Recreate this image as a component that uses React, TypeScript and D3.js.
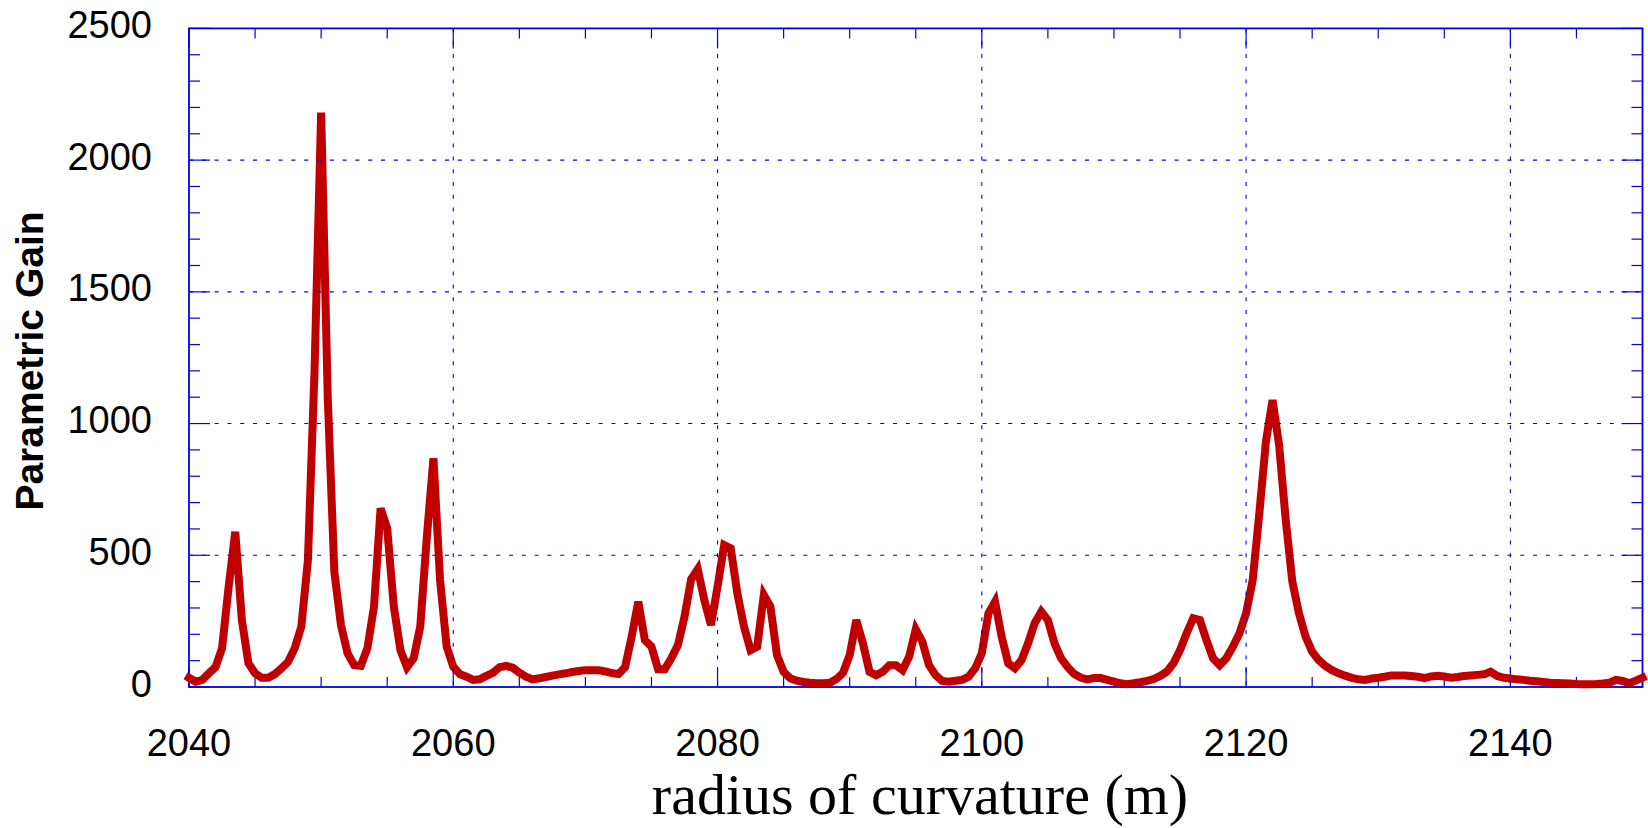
import React from "react";
import * as d3 from "d3";

// ---- data ----
const radiusStart = 2040;
const radiusStep = 0.5;
const gain: number[] = [
  35, 20, 27, 52, 75, 147, 380, 589, 254, 90,
  52, 35, 35, 49, 71, 96, 147, 229, 482, 1200,
  2180, 1100, 437, 235, 128, 83, 80, 147, 305, 678,
  602, 305, 140, 75, 109, 229, 570, 868, 406, 153,
  77, 49, 39, 27, 29, 42, 54, 75, 80, 73,
  54, 39, 29, 33, 38, 43, 48, 52, 57, 61,
  64, 64, 64, 59, 53, 49, 75, 191, 324, 178,
  153, 67, 67, 109, 159, 267, 409, 447, 330, 235,
  381, 539, 526, 355, 229, 140, 153, 349, 305, 121,
  58, 33, 24, 19, 16, 14, 14, 16, 30, 54,
  121, 254, 166, 58, 45, 58, 83, 83, 64, 115,
  219, 172, 83, 45, 23, 20, 24, 27, 39, 71,
  128, 280, 324, 191, 90, 71, 102, 166, 242, 286,
  254, 166, 109, 75, 49, 35, 29, 34, 34, 27,
  20, 14, 11, 14, 18, 23, 30, 42, 58, 90,
  140, 204, 261, 254, 178, 109, 83, 109, 153, 204,
  280, 406, 659, 931, 1089, 918, 634, 400, 280, 191,
  134, 102, 80, 64, 52, 43, 35, 29, 27, 32,
  35, 39, 44, 44, 44, 42, 39, 34, 40, 43,
  40, 35, 38, 42, 44, 46, 48, 58, 42, 35,
  32, 29, 27, 24, 22, 19, 16, 15, 14, 13,
  11, 10, 10, 11, 13, 16, 27, 23, 14, 24,
  35,
];
const xMajorTicks = [2040, 2060, 2080, 2100, 2120, 2140];
const yMajorTicks = [0, 500, 1000, 1500, 2000, 2500];
const xTitle = "radius of curvature (m)";
const yTitle = "Parametric Gain";

const W = 1648;
const H = 828;
const left = 189;
const right = 1642.5;
const top = 28.4;
const bottom = 687;

const BLUE = "#0000e6";
const RED = "#c00000";

export default function App() {
  const x = d3.scaleLinear().domain([2040, 2150]).range([left, right]);
  const y = d3.scaleLinear().domain([0, 2500]).range([bottom, top]);

  const pts: [number, number][] = gain.map((g, i) => [radiusStart + i * radiusStep, g]);
  const line = d3
    .line<[number, number]>()
    .x((d) => x(d[0]))
    .y((d) => y(d[1]));

  const xMinor = d3.range(2040, 2150.001, 5);
  const yMinor = d3.range(0, 2500.001, 100);
  const isXMajor = (v: number) => Math.abs(v % 20) < 1e-6;
  const isYMajor = (v: number) => Math.abs(v % 500) < 1e-6;

  return (
    <div style={{ position: "absolute", left: 0, top: 0 }}>
      <svg width={W} height={H} style={{ display: "block", background: "#fff" }}>
        <rect x={0} y={0} width={W} height={H} fill="#fff" />

        {/* ticks */}
        <g stroke={BLUE} strokeWidth={1.2}>
          {xMinor.map((v) => {
            const len = isXMajor(v) ? 20 : 10;
            return (
              <g key={"xt" + v}>
                <line x1={x(v)} x2={x(v)} y1={bottom} y2={bottom - len} />
                <line x1={x(v)} x2={x(v)} y1={top} y2={top + len} />
              </g>
            );
          })}
          {yMinor.map((v) => {
            const len = isYMajor(v) ? 21 : 11;
            return (
              <g key={"yt" + v}>
                <line x1={left} x2={left + len} y1={y(v)} y2={y(v)} />
                <line x1={right} x2={right - len} y1={y(v)} y2={y(v)} />
              </g>
            );
          })}
        </g>

        {/* frame */}
        <rect
          x={left}
          y={top}
          width={right - left}
          height={bottom - top}
          fill="none"
          stroke={BLUE}
          strokeWidth={1.8}
        />

        {/* data line */}
        <path
          d={line(pts) || ""}
          fill="none"
          stroke={RED}
          strokeWidth={8}
          strokeLinejoin="miter"
          strokeMiterlimit={4}
          strokeLinecap="square"
        />

        {/* grid (drawn over the line) */}
        <g stroke={BLUE} strokeWidth={1.1} strokeDasharray="4,8.8">
          {xMajorTicks
            .filter((v) => v > 2040 && v < 2150)
            .map((v) => (
              <line key={"gx" + v} x1={x(v)} x2={x(v)} y1={top} y2={bottom} />
            ))}
          {yMajorTicks
            .filter((v) => v > 0 && v < 2500)
            .map((v) => (
              <line key={"gy" + v} x1={left} x2={right} y1={y(v)} y2={y(v)} />
            ))}
        </g>

        {/* tick labels */}
        <g fontFamily="'Liberation Sans', Arial, sans-serif" fontSize={38} fill="#000">
          {xMajorTicks.map((v) => (
            <text key={"xl" + v} x={x(v)} y={756} textAnchor="middle">
              {v}
            </text>
          ))}
          {yMajorTicks.map((v) => (
            <text key={"yl" + v} x={152} y={y(v) + 9.5} textAnchor="end">
              {v}
            </text>
          ))}
        </g>

        {/* axis titles */}
        <text
          x={920}
          y={814}
          textAnchor="middle"
          fontFamily="'Liberation Serif', 'Times New Roman', serif"
          fontSize={58}
          fill="#000"
        >
          {xTitle}
        </text>
        <text
          transform={`translate(43, 361) rotate(-90)`}
          textAnchor="middle"
          fontFamily="'Liberation Sans', Arial, sans-serif"
          fontWeight="bold"
          fontSize={39}
          fill="#000"
        >
          {yTitle}
        </text>
      </svg>
    </div>
  );
}
